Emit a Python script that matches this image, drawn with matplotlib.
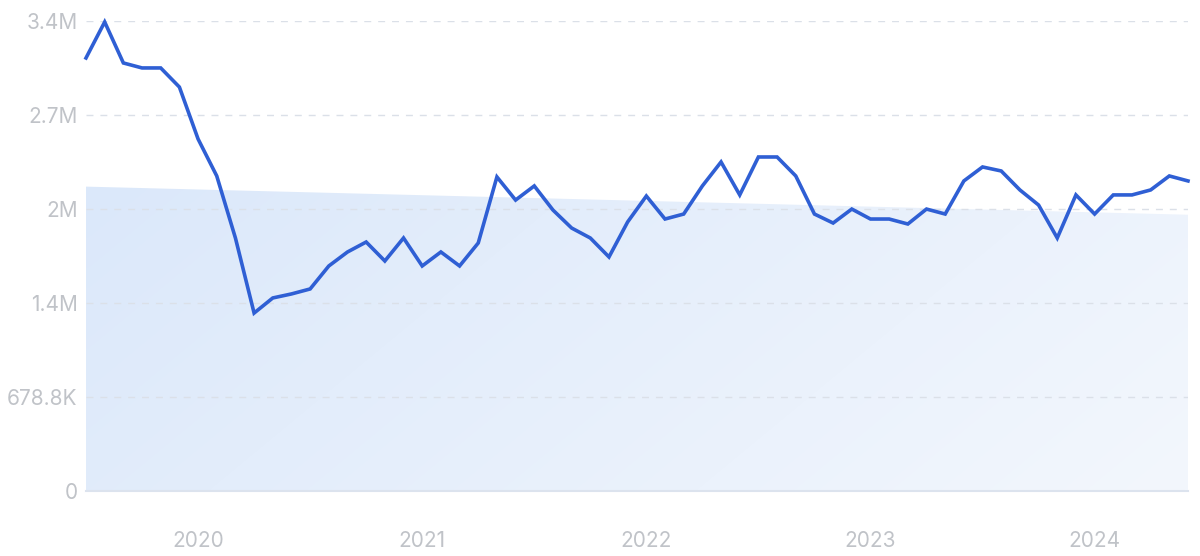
import matplotlib
matplotlib.use("Agg")
import matplotlib.pyplot as plt
import numpy as np
from matplotlib.patches import Polygon

plt.rcParams['font.family'] = ['Inter', 'DejaVu Sans']

months = ["2019-07","2019-08","2019-09","2019-10","2019-11","2019-12",
          "2020-01","2020-02","2020-03","2020-04","2020-05","2020-06",
          "2020-07","2020-08","2020-09","2020-10","2020-11","2020-12",
          "2021-01","2021-02","2021-03","2021-04","2021-05","2021-06",
          "2021-07","2021-08","2021-09","2021-10","2021-11","2021-12",
          "2022-01","2022-02","2022-03","2022-04","2022-05","2022-06",
          "2022-07","2022-08","2022-09","2022-10","2022-11","2022-12",
          "2023-01","2023-02","2023-03","2023-04","2023-05","2023-06",
          "2023-07","2023-08","2023-09","2023-10","2023-11","2023-12",
          "2024-01","2024-02","2024-03","2024-04","2024-05","2024-06"]
values = [3127, 3387, 3091, 3055, 3055, 2917,
          2542, 2275, 1827, 1285, 1394, 1423,
          1459, 1625, 1726, 1798, 1661, 1827,
          1625, 1726, 1625, 1791, 2268, 2101,
          2203, 2029, 1899, 1827, 1690, 1943,
          2130, 1964, 2000, 2203, 2376, 2138,
          2412, 2412, 2275, 2000, 1935, 2036,
          1964, 1964, 1928, 2036, 2000, 2239,
          2340, 2311, 2174, 2065, 1827, 2138,
          2000, 2138, 2138, 2174, 2275, 2239]
values = [v * 1000 for v in values]
trend_start = 2198000
trend_end = 1995000

ytick_vals = [0, 678800, 1357600, 2036400, 2715200, 3394000]
ytick_labels = ["0", "678.8K", "1.4M", "2M", "2.7M", "3.4M"]
year_labels = ["2020", "2021", "2022", "2023", "2024"]

x = np.arange(len(months))
year_pos = [months.index(f"{y}-01") for y in year_labels]

fig = plt.figure(figsize=(12, 5.56), dpi=100)
ax = fig.add_axes([86/1200, 65/556, (1188-86)/1200, (491-21)/556])

ymax = ytick_vals[-1]
ax.set_xlim(x[0], x[-1])
ax.set_ylim(0, ymax)

# gradient trend fill
poly = Polygon([(x[0], 0), (x[0], trend_start), (x[-1], trend_end), (x[-1], 0)],
               closed=True, facecolor='none', edgecolor='none')
ax.add_patch(poly)
nx, ny = 200, 100
gx = np.linspace(0, 1, nx)[None, :]
gy = np.linspace(0, 1, ny)[:, None]
t = np.clip(0.75 * gx + 0.25 * (1 - gy), 0, 1)
c0 = np.array([0xdb, 0xe8, 0xfa]) / 255
c1 = np.array([0xf3, 0xf7, 0xfd]) / 255
img = c0[None, None, :] * (1 - t[..., None]) + c1[None, None, :] * t[..., None]
im = ax.imshow(img, extent=[x[0], x[-1], 0, trend_start], origin='lower',
               aspect='auto', zorder=1, interpolation='bilinear')
im.set_clip_path(poly)

for yv in ytick_vals[1:]:
    ax.axhline(yv, color='#dbe0e8', lw=1, ls=(0, (5, 5)), zorder=2)

ax.plot(x, values, color='#2f5fd4', lw=2.6, zorder=3, solid_joinstyle='miter',
        clip_on=False)

for s in ['top', 'right', 'left']:
    ax.spines[s].set_visible(False)
ax.spines['bottom'].set_color('#dce3ee')
ax.spines['bottom'].set_linewidth(1.5)
ax.spines['bottom'].set_zorder(4)

ax.set_yticks(ytick_vals)
ax.set_yticklabels(ytick_labels)
ax.set_xticks(year_pos)
ax.set_xticklabels(year_labels)
ax.tick_params(axis='y', length=0, pad=6, labelsize=15, labelcolor='#c0c3c8')
ax.tick_params(axis='x', length=0, pad=29, labelsize=15, labelcolor='#c0c3c8')

fig.savefig('out.png', dpi=100, facecolor='white')
